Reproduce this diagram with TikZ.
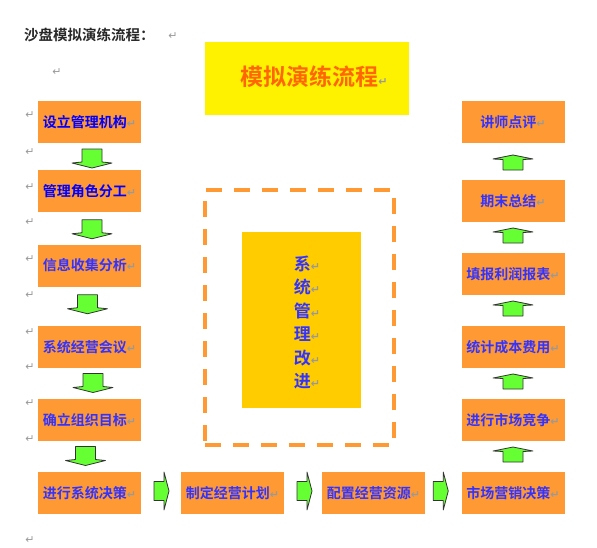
\documentclass[tikz,border=0pt]{standalone}
\usepackage{fontspec}
\setmainfont{Noto Sans CJK SC}[BoldFont={Noto Sans CJK SC Bold}]
\newfontfamily\symf{DejaVu Sans}
\usetikzlibrary{calc}
\definecolor{boxor}{RGB}{255,153,51}
\definecolor{txtblue}{RGB}{51,51,255}
\definecolor{grn}{RGB}{102,255,51}
\definecolor{goldbox}{RGB}{255,204,0}
\definecolor{ttl}{RGB}{255,102,0}
\definecolor{hdr}{RGB}{40,40,40}
\newcommand{\rt}{{\symf\fontsize{11}{11}\selectfont\color{black!40}↵}}
\begin{document}
\begin{tikzpicture}[x=1pt,y=-1pt,
  stepbox/.style={fill=boxor, minimum width=103pt, minimum height=42pt, inner sep=0pt,
    font=\bfseries\fontsize{14}{16}\selectfont, text=txtblue},
  arrstyle/.style={fill=grn, draw=black!80, line width=0.8pt, line join=round},
  downarr/.pic={\draw[arrstyle] (-10,-9.5) -- (-10,3.5) -- (-20,4.5) -- (0,9.5) -- (20,4.5) -- (10,3.5) -- (10,-9.5) -- cycle;},
  uparr/.pic={\draw[arrstyle] (-10,7.5) -- (-10,-3) -- (-20,-3.5) -- (0,-7.5) -- (20,-3.5) -- (10,-3) -- (10,7.5) -- cycle;},
  rightarr/.pic={\draw[arrstyle] (-7.5,-9.5) -- (2.5,-9.5) -- (2.5,-19) -- (7.5,0) -- (2.5,19) -- (2.5,9.5) -- (-7.5,9.5) -- cycle;},
  pmark/.style={inner sep=0pt}
]
\useasboundingbox (0,0) rectangle (597,547);

% header
\node[anchor=west, inner sep=0pt, text=hdr, font=\bfseries\fontsize{14.5}{16}\selectfont] (hdr) at (24,35) {沙盘模拟演练流程：};
\node[pmark] (hm) at (173,36) {\rt};
\node[pmark] (hm2) at (57,72) {\rt};

% title box
\node[fill=yellow, minimum width=204pt, minimum height=73pt, inner sep=0pt] (title) at (307,78.5) {};
\node[inner sep=0pt, text=ttl, font=\bfseries\fontsize{23}{26}\selectfont] (titletext) at (314,77) {模拟演练流程\rt};

% margin marks
\foreach \yy [count=\i] in {115,152,187,222,259,295,332,367,403,439,540}
  \node[pmark] (mm\i) at (30,\yy) {\rt};

% left column
\node[stepbox, text=blue] (l1) at (89.5,122) {设立管理机构\rt};
\node[stepbox, text=blue] (l2) at (89.5,191) {管理角色分工\rt};
\node[stepbox] (l3) at (89.5,265.5) {信息收集分析\rt};
\node[stepbox] (l4) at (89.5,347) {系统经营会议\rt};
\node[stepbox] (l5) at (89.5,420) {确立组织目标\rt};
\node[stepbox] (l6) at (89.5,493) {进行系统决策\rt};

% bottom row
\node[stepbox] (b1) at (232.5,493) {制定经营计划\rt};
\node[stepbox] (b2) at (373.5,493) {配置经营资源\rt};

% right column
\node[stepbox] (r6) at (513,493) {市场营销决策\rt};
\node[stepbox] (r5) at (513,420) {进行市场竞争\rt};
\node[stepbox] (r4) at (513,347) {统计成本费用\rt};
\node[stepbox] (r3) at (513,274) {填报利润报表\rt};
\node[stepbox] (r2) at (513,201) {期末总结\rt};
\node[stepbox] (r1) at (513,122) {讲师点评\rt};

% down arrows
\pic at ($(l1.south)!0.5!(l2.north)+(2.5,2)$) {downarr};
\pic at ($(l2.south)!0.5!(l3.north)+(2.5,1)$) {downarr};
\pic at ($(l3.south)!0.5!(l4.north)+(-2,-2)$) {downarr};
\pic at ($(l4.south)!0.5!(l5.north)+(3.5,-0.5)$) {downarr};
\pic at ($(l5.south)!0.5!(l6.north)+(-4,-0.5)$) {downarr};

% right arrows
\pic at ($(l6.east)!0.5!(b1.west)+(0.5,-2)$) {rightarr};
\pic at ($(b1.east)!0.5!(b2.west)+(1.5,-2)$) {rightarr};
\pic at ($(b2.east)!0.5!(r6.west)+(-2.5,-2)$) {rightarr};

% up arrows
\pic at ($(r6.north)!0.5!(r5.south)+(0,-2)$) {uparr};
\pic at ($(r5.north)!0.5!(r4.south)+(0,-2)$) {uparr};
\pic at ($(r4.north)!0.5!(r3.south)+(0,-2)$) {uparr};
\pic at ($(r3.north)!0.5!(r2.south)+(0,-2)$) {uparr};
\pic at ($(r2.north)!0.5!(r1.south)+(0,1)$) {uparr};

% dashed frame and centre box
\node[draw=boxor, line width=4pt, dash pattern=on 16pt off 12pt, minimum width=189pt, minimum height=255pt, inner sep=0pt] (frame) at (299.5,317.5) {};
\node[fill=goldbox, minimum width=119pt, minimum height=176pt, inner sep=0pt] (core) at (301.5,320) {};
\node[inner sep=0pt, align=left, text=txtblue, font=\bfseries\fontsize{17}{23.5}\selectfont] (coretext) at (307,322.5)
  {系\rt\\统\rt\\管\rt\\理\rt\\改\rt\\进\rt};
\end{tikzpicture}
\end{document}
